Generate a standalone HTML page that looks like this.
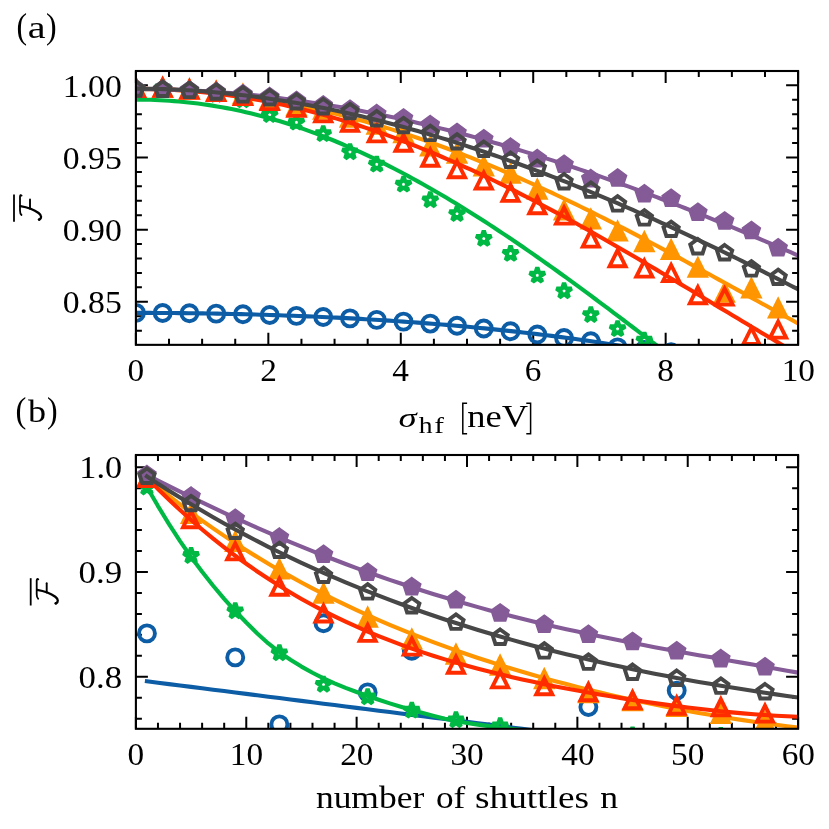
<!DOCTYPE html>
<html lang="en">
<head>
<meta charset="utf-8">
<title>Average fidelity versus hyperfine noise and number of shuttles</title>
<style>
html,body{margin:0;padding:0;background:#ffffff;}
body{width:829px;height:829px;overflow:hidden;font-family:"Liberation Serif",serif;}
svg{display:block;will-change:transform;}
</style>
</head>
<body>
<svg width="829" height="829" viewBox="0 0 829 829">
<rect x="0" y="0" width="829" height="829" fill="#ffffff"/>
<defs>
<clipPath id="ca"><rect x="135.9" y="71" width="662.2" height="273.85"/></clipPath>
<clipPath id="cb"><rect x="135.9" y="455" width="662.2" height="273.8"/></clipPath>
</defs>
<path d="M135.9 71 v12 M135.9 344.85 v-12 M268.34 71 v12 M268.34 344.85 v-12 M400.78 71 v12 M400.78 344.85 v-12 M533.22 71 v12 M533.22 344.85 v-12 M665.66 71 v12 M665.66 344.85 v-12 M798.1 71 v12 M798.1 344.85 v-12 M169.01 71 v6 M169.01 344.85 v-6 M202.12 71 v6 M202.12 344.85 v-6 M235.23 71 v6 M235.23 344.85 v-6 M301.45 71 v6 M301.45 344.85 v-6 M334.56 71 v6 M334.56 344.85 v-6 M367.67 71 v6 M367.67 344.85 v-6 M433.89 71 v6 M433.89 344.85 v-6 M467 71 v6 M467 344.85 v-6 M500.11 71 v6 M500.11 344.85 v-6 M566.33 71 v6 M566.33 344.85 v-6 M599.44 71 v6 M599.44 344.85 v-6 M632.55 71 v6 M632.55 344.85 v-6 M698.77 71 v6 M698.77 344.85 v-6 M731.88 71 v6 M731.88 344.85 v-6 M764.99 71 v6 M764.99 344.85 v-6 M135.9 85.3 h12 M798.1 85.3 h-12 M135.9 157.47 h12 M798.1 157.47 h-12 M135.9 229.63 h12 M798.1 229.63 h-12 M135.9 301.8 h12 M798.1 301.8 h-12 M135.9 330.66 h6 M798.1 330.66 h-6 M135.9 316.23 h6 M798.1 316.23 h-6 M135.9 287.36 h6 M798.1 287.36 h-6 M135.9 272.93 h6 M798.1 272.93 h-6 M135.9 258.5 h6 M798.1 258.5 h-6 M135.9 244.06 h6 M798.1 244.06 h-6 M135.9 215.2 h6 M798.1 215.2 h-6 M135.9 200.76 h6 M798.1 200.76 h-6 M135.9 186.33 h6 M798.1 186.33 h-6 M135.9 171.9 h6 M798.1 171.9 h-6 M135.9 143.03 h6 M798.1 143.03 h-6 M135.9 128.6 h6 M798.1 128.6 h-6 M135.9 114.17 h6 M798.1 114.17 h-6 M135.9 99.73 h6 M798.1 99.73 h-6" stroke="#000" stroke-width="2" fill="none"/>
<g clip-path="url(#ca)">
<polyline points="135.9,312.9 140.68,312.9 145.46,312.91 150.24,312.92 155.01,312.94 159.79,312.96 164.57,312.99 169.35,313.03 174.13,313.07 178.91,313.11 183.68,313.16 188.46,313.22 193.24,313.28 198.02,313.34 202.8,313.41 207.58,313.49 212.35,313.57 217.13,313.66 221.91,313.75 226.69,313.85 231.47,313.95 236.25,314.06 241.03,314.17 245.8,314.29 250.58,314.42 255.36,314.55 260.14,314.68 264.92,314.82 269.7,314.97 274.47,315.13 279.25,315.28 284.03,315.45 288.81,315.62 293.59,315.8 298.37,315.98 303.14,316.17 307.92,316.36 312.7,316.56 317.48,316.77 322.26,316.98 327.04,317.2 331.82,317.43 336.59,317.66 341.37,317.9 346.15,318.15 350.93,318.4 355.71,318.66 360.49,318.92 365.26,319.19 370.04,319.47 374.82,319.76 379.6,320.05 384.38,320.35 389.16,320.65 393.93,320.97 398.71,321.29 403.49,321.62 408.27,321.95 413.05,322.29 417.83,322.64 422.61,323 427.38,323.37 432.16,323.74 436.94,324.12 441.72,324.51 446.5,324.91 451.28,325.32 456.05,325.73 460.83,326.15 465.61,326.58 470.39,327.02 475.17,327.47 479.95,327.93 484.72,328.39 489.5,328.87 494.28,329.35 499.06,329.84 503.84,330.34 508.62,330.85 513.39,331.37 518.17,331.9 522.95,332.44 527.73,332.99 532.51,333.55 537.29,334.12 542.07,334.7 546.84,335.29 551.62,335.89 556.4,336.5 561.18,337.12 565.96,337.75 570.74,338.4 575.51,339.05 580.29,339.71 585.07,340.39 589.85,341.08 594.63,341.78 599.41,342.49 604.18,343.21 608.96,343.94 613.74,344.69 618.52,345.45 623.3,346.22 628.08,347 632.86,347.8 637.63,348.6 642.41,349.43 647.19,350.26 651.97,351.11 656.75,351.97 661.53,352.84 666.3,353.73 671.08,354.63 675.86,355.55 680.64,356.48 685.42,357.42 690.2,358.38 694.97,359.36 699.75,360.34 704.53,361.35 709.31,362.36 714.09,363.4 718.87,364.45 723.65,365.51 728.42,366.59 733.2,367.69 737.98,368.8 742.76,369.93 747.54,371.07 752.32,372.23 757.09,373.41 761.87,374.61 766.65,375.82 771.43,377.05 776.21,378.3 780.99,379.56 785.76,380.84 790.54,382.14 795.32,383.46 800.1,384.8" fill="none" stroke="#0C5DA5" stroke-width="4.1" stroke-linejoin="round" stroke-linecap="square"/>
<circle cx="135.9" cy="312.9" r="8" fill="none" stroke="#0C5DA5" stroke-width="3.9"/>
<circle cx="162.66" cy="312.98" r="8" fill="none" stroke="#0C5DA5" stroke-width="3.9"/>
<circle cx="189.42" cy="313.23" r="8" fill="none" stroke="#0C5DA5" stroke-width="3.9"/>
<circle cx="216.18" cy="313.64" r="8" fill="none" stroke="#0C5DA5" stroke-width="3.9"/>
<circle cx="242.94" cy="314.22" r="8" fill="none" stroke="#0C5DA5" stroke-width="3.9"/>
<circle cx="269.7" cy="314.97" r="8" fill="none" stroke="#0C5DA5" stroke-width="3.9"/>
<circle cx="296.46" cy="315.91" r="8" fill="none" stroke="#0C5DA5" stroke-width="3.9"/>
<circle cx="323.22" cy="317.03" r="8" fill="none" stroke="#0C5DA5" stroke-width="3.9"/>
<circle cx="349.98" cy="318.35" r="8" fill="none" stroke="#0C5DA5" stroke-width="3.9"/>
<circle cx="376.74" cy="319.87" r="8" fill="none" stroke="#0C5DA5" stroke-width="3.9"/>
<circle cx="403.5" cy="321.62" r="8" fill="none" stroke="#0C5DA5" stroke-width="3.9"/>
<circle cx="430.26" cy="323.59" r="8" fill="none" stroke="#0C5DA5" stroke-width="3.9"/>
<circle cx="457.02" cy="325.81" r="8" fill="none" stroke="#0C5DA5" stroke-width="3.9"/>
<circle cx="483.78" cy="328.5" r="8" fill="none" stroke="#0C5DA5" stroke-width="3.9"/>
<circle cx="510.54" cy="331.3" r="8" fill="none" stroke="#0C5DA5" stroke-width="3.9"/>
<circle cx="537.3" cy="334.5" r="8" fill="none" stroke="#0C5DA5" stroke-width="3.9"/>
<circle cx="564.06" cy="338" r="8" fill="none" stroke="#0C5DA5" stroke-width="3.9"/>
<circle cx="590.82" cy="341.3" r="8" fill="none" stroke="#0C5DA5" stroke-width="3.9"/>
<circle cx="617.58" cy="347.4" r="8" fill="none" stroke="#0C5DA5" stroke-width="3.9"/>
<circle cx="644.34" cy="350" r="8" fill="none" stroke="#0C5DA5" stroke-width="3.9"/>
<circle cx="671.1" cy="352.3" r="8" fill="none" stroke="#0C5DA5" stroke-width="3.9"/>
<circle cx="697.86" cy="358" r="8" fill="none" stroke="#0C5DA5" stroke-width="3.9"/>
<polyline points="135.9,99.6 140.68,99.62 145.46,99.69 150.24,99.81 155.01,99.98 159.79,100.19 164.57,100.44 169.35,100.75 174.13,101.1 178.91,101.5 183.68,101.95 188.46,102.44 193.24,102.99 198.02,103.58 202.8,104.22 207.58,104.9 212.35,105.64 217.13,106.42 221.91,107.26 226.69,108.14 231.47,109.07 236.25,110.05 241.03,111.09 245.8,112.16 250.58,113.29 255.36,114.47 260.14,115.7 264.92,116.97 269.7,118.3 274.47,119.67 279.25,121.09 284.03,122.55 288.81,124.07 293.59,125.63 298.37,127.24 303.14,128.89 307.92,130.59 312.7,132.34 317.48,134.13 322.26,135.97 327.04,137.85 331.82,139.77 336.59,141.74 341.37,143.75 346.15,145.8 350.93,147.89 355.71,150.03 360.49,152.2 365.26,154.42 370.04,156.68 374.82,158.97 379.6,161.31 384.38,163.68 389.16,166.09 393.93,168.54 398.71,171.03 403.49,173.55 408.27,176.11 413.05,178.7 417.83,181.33 422.61,184 427.38,186.7 432.16,189.43 436.94,192.19 441.72,194.99 446.5,197.82 451.28,200.68 456.05,203.58 460.83,206.5 465.61,209.45 470.39,212.44 475.17,215.45 479.95,218.49 484.72,221.56 489.5,224.65 494.28,227.77 499.06,230.92 503.84,234.1 508.62,237.3 513.39,240.52 518.17,243.77 522.95,247.04 527.73,250.34 532.51,253.65 537.29,256.99 542.07,260.35 546.84,263.73 551.62,267.12 556.4,270.54 561.18,273.98 565.96,277.43 570.74,280.9 575.51,284.39 580.29,287.89 585.07,291.41 589.85,294.94 594.63,298.48 599.41,302.04 604.18,305.61 608.96,309.19 613.74,312.78 618.52,316.39 623.3,320 628.08,323.62 632.86,327.25 637.63,330.88 642.41,334.53 647.19,338.17 651.97,341.83 656.75,345.48 661.53,349.14 666.3,352.8 671.08,356.47 675.86,360.13 680.64,363.8 685.42,367.46 690.2,371.13 694.97,374.79 699.75,378.45 704.53,382.1 709.31,385.75 714.09,389.39 718.87,393.03 723.65,396.66 728.42,400.28 733.2,403.89 737.98,407.5 742.76,411.09 747.54,414.67 752.32,418.24 757.09,421.79 761.87,425.33 766.65,428.86 771.43,432.37 776.21,435.86 780.99,439.33 785.76,442.78 790.54,446.22 795.32,449.63 800.1,453.03" fill="none" stroke="#00B945" stroke-width="4.1" stroke-linejoin="round" stroke-linecap="square"/>
<polygon points="135.9,80.5 137.7,86.03 143.51,86.03 138.81,89.44 140.6,94.97 135.9,91.56 131.2,94.97 132.99,89.44 128.29,86.03 134.1,86.03" fill="none" stroke="#00B945" stroke-width="4.3" stroke-linejoin="bevel"/>
<polygon points="162.66,80 164.46,85.53 170.27,85.53 165.57,88.94 167.36,94.47 162.66,91.06 157.96,94.47 159.75,88.94 155.05,85.53 160.86,85.53" fill="none" stroke="#00B945" stroke-width="4.3" stroke-linejoin="bevel"/>
<polygon points="189.42,82.5 191.22,88.03 197.03,88.03 192.33,91.44 194.12,96.97 189.42,93.56 184.72,96.97 186.51,91.44 181.81,88.03 187.62,88.03" fill="none" stroke="#00B945" stroke-width="4.3" stroke-linejoin="bevel"/>
<polygon points="216.18,86.5 217.98,92.03 223.79,92.03 219.09,95.44 220.88,100.97 216.18,97.56 211.48,100.97 213.27,95.44 208.57,92.03 214.38,92.03" fill="none" stroke="#00B945" stroke-width="4.3" stroke-linejoin="bevel"/>
<polygon points="242.94,92 244.74,97.53 250.55,97.53 245.85,100.94 247.64,106.47 242.94,103.06 238.24,106.47 240.03,100.94 235.33,97.53 241.14,97.53" fill="none" stroke="#00B945" stroke-width="4.3" stroke-linejoin="bevel"/>
<polygon points="269.7,106.7 271.5,112.23 277.31,112.23 272.61,115.64 274.4,121.17 269.7,117.76 265,121.17 266.79,115.64 262.09,112.23 267.9,112.23" fill="none" stroke="#00B945" stroke-width="4.3" stroke-linejoin="bevel"/>
<polygon points="296.46,114.4 298.26,119.93 304.07,119.93 299.37,123.34 301.16,128.87 296.46,125.46 291.76,128.87 293.55,123.34 288.85,119.93 294.66,119.93" fill="none" stroke="#00B945" stroke-width="4.3" stroke-linejoin="bevel"/>
<polygon points="323.22,125.9 325.02,131.43 330.83,131.43 326.13,134.84 327.92,140.37 323.22,136.96 318.52,140.37 320.31,134.84 315.61,131.43 321.42,131.43" fill="none" stroke="#00B945" stroke-width="4.3" stroke-linejoin="bevel"/>
<polygon points="349.98,144 351.78,149.53 357.59,149.53 352.89,152.94 354.68,158.47 349.98,155.06 345.28,158.47 347.07,152.94 342.37,149.53 348.18,149.53" fill="none" stroke="#00B945" stroke-width="4.3" stroke-linejoin="bevel"/>
<polygon points="376.74,156.4 378.54,161.93 384.35,161.93 379.65,165.34 381.44,170.87 376.74,167.46 372.04,170.87 373.83,165.34 369.13,161.93 374.94,161.93" fill="none" stroke="#00B945" stroke-width="4.3" stroke-linejoin="bevel"/>
<polygon points="403.5,176.4 405.3,181.93 411.11,181.93 406.41,185.34 408.2,190.87 403.5,187.46 398.8,190.87 400.59,185.34 395.89,181.93 401.7,181.93" fill="none" stroke="#00B945" stroke-width="4.3" stroke-linejoin="bevel"/>
<polygon points="430.26,192 432.06,197.53 437.87,197.53 433.17,200.94 434.96,206.47 430.26,203.06 425.56,206.47 427.35,200.94 422.65,197.53 428.46,197.53" fill="none" stroke="#00B945" stroke-width="4.3" stroke-linejoin="bevel"/>
<polygon points="457.02,205.8 458.82,211.33 464.63,211.33 459.93,214.74 461.72,220.27 457.02,216.86 452.32,220.27 454.11,214.74 449.41,211.33 455.22,211.33" fill="none" stroke="#00B945" stroke-width="4.3" stroke-linejoin="bevel"/>
<polygon points="483.78,230.6 485.58,236.13 491.39,236.13 486.69,239.54 488.48,245.07 483.78,241.66 479.08,245.07 480.87,239.54 476.17,236.13 481.98,236.13" fill="none" stroke="#00B945" stroke-width="4.3" stroke-linejoin="bevel"/>
<polygon points="510.54,245.6 512.34,251.13 518.15,251.13 513.45,254.54 515.24,260.07 510.54,256.66 505.84,260.07 507.63,254.54 502.93,251.13 508.74,251.13" fill="none" stroke="#00B945" stroke-width="4.3" stroke-linejoin="bevel"/>
<polygon points="537.3,267.4 539.1,272.93 544.91,272.93 540.21,276.34 542,281.87 537.3,278.46 532.6,281.87 534.39,276.34 529.69,272.93 535.5,272.93" fill="none" stroke="#00B945" stroke-width="4.3" stroke-linejoin="bevel"/>
<polygon points="564.06,283 565.86,288.53 571.67,288.53 566.97,291.94 568.76,297.47 564.06,294.06 559.36,297.47 561.15,291.94 556.45,288.53 562.26,288.53" fill="none" stroke="#00B945" stroke-width="4.3" stroke-linejoin="bevel"/>
<polygon points="590.82,306.8 592.62,312.33 598.43,312.33 593.73,315.74 595.52,321.27 590.82,317.86 586.12,321.27 587.91,315.74 583.21,312.33 589.02,312.33" fill="none" stroke="#00B945" stroke-width="4.3" stroke-linejoin="bevel"/>
<polygon points="617.58,320.9 619.38,326.43 625.19,326.43 620.49,329.84 622.28,335.37 617.58,331.96 612.88,335.37 614.67,329.84 609.97,326.43 615.78,326.43" fill="none" stroke="#00B945" stroke-width="4.3" stroke-linejoin="bevel"/>
<polygon points="644.34,332.4 646.14,337.93 651.95,337.93 647.25,341.34 649.04,346.87 644.34,343.46 639.64,346.87 641.43,341.34 636.73,337.93 642.54,337.93" fill="none" stroke="#00B945" stroke-width="4.3" stroke-linejoin="bevel"/>
<polygon points="671.1,348 672.9,353.53 678.71,353.53 674.01,356.94 675.8,362.47 671.1,359.06 666.4,362.47 668.19,356.94 663.49,353.53 669.3,353.53" fill="none" stroke="#00B945" stroke-width="4.3" stroke-linejoin="bevel"/>
<polyline points="135.9,89.03 140.68,89.04 145.46,89.09 150.24,89.16 155.01,89.25 159.79,89.38 164.57,89.53 169.35,89.71 174.13,89.92 178.91,90.16 183.68,90.43 188.46,90.72 193.24,91.05 198.02,91.4 202.8,91.78 207.58,92.19 212.35,92.62 217.13,93.09 221.91,93.58 226.69,94.11 231.47,94.66 236.25,95.24 241.03,95.85 245.8,96.48 250.58,97.15 255.36,97.85 260.14,98.57 264.92,99.32 269.7,100.1 274.47,100.91 279.25,101.75 284.03,102.61 288.81,103.5 293.59,104.43 298.37,105.38 303.14,106.35 307.92,107.36 312.7,108.39 317.48,109.46 322.26,110.55 327.04,111.66 331.82,112.81 336.59,113.98 341.37,115.18 346.15,116.41 350.93,117.66 355.71,118.95 360.49,120.25 365.26,121.59 370.04,122.95 374.82,124.34 379.6,125.76 384.38,127.2 389.16,128.66 393.93,130.16 398.71,131.68 403.49,133.22 408.27,134.79 413.05,136.39 417.83,138.01 422.61,139.66 427.38,141.33 432.16,143.02 436.94,144.74 441.72,146.49 446.5,148.25 451.28,150.05 456.05,151.86 460.83,153.7 465.61,155.56 470.39,157.45 475.17,159.35 479.95,161.28 484.72,163.23 489.5,165.21 494.28,167.2 499.06,169.22 503.84,171.26 508.62,173.31 513.39,175.39 518.17,177.49 522.95,179.61 527.73,181.75 532.51,183.91 537.29,186.09 542.07,188.28 546.84,190.5 551.62,192.73 556.4,194.98 561.18,197.25 565.96,199.54 570.74,201.84 575.51,204.16 580.29,206.49 585.07,208.84 589.85,211.21 594.63,213.59 599.41,215.99 604.18,218.4 608.96,220.83 613.74,223.27 618.52,225.72 623.3,228.18 628.08,230.66 632.86,233.15 637.63,235.65 642.41,238.17 647.19,240.69 651.97,243.23 656.75,245.77 661.53,248.33 666.3,250.89 671.08,253.46 675.86,256.05 680.64,258.63 685.42,261.23 690.2,263.84 694.97,266.45 699.75,269.06 704.53,271.69 709.31,274.31 714.09,276.95 718.87,279.58 723.65,282.22 728.42,284.87 733.2,287.52 737.98,290.16 742.76,292.82 747.54,295.47 752.32,298.12 757.09,300.78 761.87,303.43 766.65,306.08 771.43,308.73 776.21,311.38 780.99,314.03 785.76,316.67 790.54,319.32 795.32,321.95 800.1,324.59" fill="none" stroke="#FF9500" stroke-width="4.1" stroke-linejoin="round" stroke-linecap="square"/>
<polygon points="135.9,80 127.9,96 143.9,96" fill="#FF9500" stroke="#FF9500" stroke-width="3.9" stroke-linejoin="miter"/>
<polygon points="162.66,80 154.66,96 170.66,96" fill="#FF9500" stroke="#FF9500" stroke-width="3.9" stroke-linejoin="miter"/>
<polygon points="189.42,81.5 181.42,97.5 197.42,97.5" fill="#FF9500" stroke="#FF9500" stroke-width="3.9" stroke-linejoin="miter"/>
<polygon points="216.18,83.5 208.18,99.5 224.18,99.5" fill="#FF9500" stroke="#FF9500" stroke-width="3.9" stroke-linejoin="miter"/>
<polygon points="242.94,86.5 234.94,102.5 250.94,102.5" fill="#FF9500" stroke="#FF9500" stroke-width="3.9" stroke-linejoin="miter"/>
<polygon points="269.7,92 261.7,108 277.7,108" fill="#FF9500" stroke="#FF9500" stroke-width="3.9" stroke-linejoin="miter"/>
<polygon points="296.46,98.2 288.46,114.2 304.46,114.2" fill="#FF9500" stroke="#FF9500" stroke-width="3.9" stroke-linejoin="miter"/>
<polygon points="323.22,101.8 315.22,117.8 331.22,117.8" fill="#FF9500" stroke="#FF9500" stroke-width="3.9" stroke-linejoin="miter"/>
<polygon points="349.98,109.8 341.98,125.8 357.98,125.8" fill="#FF9500" stroke="#FF9500" stroke-width="3.9" stroke-linejoin="miter"/>
<polygon points="376.74,116.91 368.74,132.91 384.74,132.91" fill="#FF9500" stroke="#FF9500" stroke-width="3.9" stroke-linejoin="miter"/>
<polygon points="403.5,125.23 395.5,141.23 411.5,141.23" fill="#FF9500" stroke="#FF9500" stroke-width="3.9" stroke-linejoin="miter"/>
<polygon points="430.26,138.5 422.26,154.5 438.26,154.5" fill="#FF9500" stroke="#FF9500" stroke-width="3.9" stroke-linejoin="miter"/>
<polygon points="457.02,145.7 449.02,161.7 465.02,161.7" fill="#FF9500" stroke="#FF9500" stroke-width="3.9" stroke-linejoin="miter"/>
<polygon points="483.78,158.5 475.78,174.5 491.78,174.5" fill="#FF9500" stroke="#FF9500" stroke-width="3.9" stroke-linejoin="miter"/>
<polygon points="510.54,165.8 502.54,181.8 518.54,181.8" fill="#FF9500" stroke="#FF9500" stroke-width="3.9" stroke-linejoin="miter"/>
<polygon points="537.3,181.7 529.3,197.7 545.3,197.7" fill="#FF9500" stroke="#FF9500" stroke-width="3.9" stroke-linejoin="miter"/>
<polygon points="564.06,202.5 556.06,218.5 572.06,218.5" fill="#FF9500" stroke="#FF9500" stroke-width="3.9" stroke-linejoin="miter"/>
<polygon points="590.82,211.6 582.82,227.6 598.82,227.6" fill="#FF9500" stroke="#FF9500" stroke-width="3.9" stroke-linejoin="miter"/>
<polygon points="617.58,223.6 609.58,239.6 625.58,239.6" fill="#FF9500" stroke="#FF9500" stroke-width="3.9" stroke-linejoin="miter"/>
<polygon points="644.34,234.2 636.34,250.2 652.34,250.2" fill="#FF9500" stroke="#FF9500" stroke-width="3.9" stroke-linejoin="miter"/>
<polygon points="671.1,242 663.1,258 679.1,258" fill="#FF9500" stroke="#FF9500" stroke-width="3.9" stroke-linejoin="miter"/>
<polygon points="697.86,259.8 689.86,275.8 705.86,275.8" fill="#FF9500" stroke="#FF9500" stroke-width="3.9" stroke-linejoin="miter"/>
<polygon points="724.62,284.8 716.62,300.8 732.62,300.8" fill="#FF9500" stroke="#FF9500" stroke-width="3.9" stroke-linejoin="miter"/>
<polygon points="751.38,280.6 743.38,296.6 759.38,296.6" fill="#FF9500" stroke="#FF9500" stroke-width="3.9" stroke-linejoin="miter"/>
<polygon points="778.14,300.6 770.14,316.6 786.14,316.6" fill="#FF9500" stroke="#FF9500" stroke-width="3.9" stroke-linejoin="miter"/>
<polyline points="135.9,88.82 140.68,88.84 145.46,88.89 150.24,88.97 155.01,89.09 159.79,89.24 164.57,89.43 169.35,89.65 174.13,89.9 178.91,90.19 183.68,90.51 188.46,90.87 193.24,91.26 198.02,91.68 202.8,92.14 207.58,92.63 212.35,93.16 217.13,93.72 221.91,94.31 226.69,94.94 231.47,95.6 236.25,96.3 241.03,97.03 245.8,97.79 250.58,98.59 255.36,99.42 260.14,100.28 264.92,101.18 269.7,102.11 274.47,103.08 279.25,104.08 284.03,105.11 288.81,106.17 293.59,107.27 298.37,108.4 303.14,109.56 307.92,110.76 312.7,111.99 317.48,113.25 322.26,114.54 327.04,115.86 331.82,117.22 336.59,118.61 341.37,120.03 346.15,121.48 350.93,122.96 355.71,124.47 360.49,126.02 365.26,127.59 370.04,129.19 374.82,130.83 379.6,132.49 384.38,134.19 389.16,135.91 393.93,137.67 398.71,139.45 403.49,141.26 408.27,143.1 413.05,144.97 417.83,146.86 422.61,148.79 427.38,150.74 432.16,152.71 436.94,154.72 441.72,156.75 446.5,158.81 451.28,160.89 456.05,163 460.83,165.14 465.61,167.3 470.39,169.48 475.17,171.69 479.95,173.93 484.72,176.18 489.5,178.46 494.28,180.77 499.06,183.09 503.84,185.44 508.62,187.81 513.39,190.2 518.17,192.62 522.95,195.05 527.73,197.51 532.51,199.98 537.29,202.47 542.07,204.99 546.84,207.52 551.62,210.07 556.4,212.64 561.18,215.22 565.96,217.82 570.74,220.44 575.51,223.08 580.29,225.73 585.07,228.39 589.85,231.07 594.63,233.77 599.41,236.48 604.18,239.2 608.96,241.93 613.74,244.68 618.52,247.44 623.3,250.21 628.08,252.99 632.86,255.78 637.63,258.58 642.41,261.39 647.19,264.21 651.97,267.03 656.75,269.87 661.53,272.71 666.3,275.55 671.08,278.4 675.86,281.26 680.64,284.12 685.42,286.99 690.2,289.86 694.97,292.73 699.75,295.61 704.53,298.48 709.31,301.36 714.09,304.24 718.87,307.12 723.65,309.99 728.42,312.87 733.2,315.74 737.98,318.61 742.76,321.48 747.54,324.34 752.32,327.2 757.09,330.05 761.87,332.9 766.65,335.73 771.43,338.57 776.21,341.39 780.99,344.2 785.76,347.01 790.54,349.8 795.32,352.59 800.1,355.36" fill="none" stroke="#FF2C00" stroke-width="4.1" stroke-linejoin="round" stroke-linecap="square"/>
<polygon points="135.9,80 127.9,96 143.9,96" fill="none" stroke="#FF2C00" stroke-width="3.9" stroke-linejoin="miter"/>
<polygon points="162.66,79.7 154.66,95.7 170.66,95.7" fill="none" stroke="#FF2C00" stroke-width="3.9" stroke-linejoin="miter"/>
<polygon points="189.42,81.7 181.42,97.7 197.42,97.7" fill="none" stroke="#FF2C00" stroke-width="3.9" stroke-linejoin="miter"/>
<polygon points="216.18,84 208.18,100 224.18,100" fill="none" stroke="#FF2C00" stroke-width="3.9" stroke-linejoin="miter"/>
<polygon points="242.94,88 234.94,104 250.94,104" fill="none" stroke="#FF2C00" stroke-width="3.9" stroke-linejoin="miter"/>
<polygon points="269.7,93.1 261.7,109.1 277.7,109.1" fill="none" stroke="#FF2C00" stroke-width="3.9" stroke-linejoin="miter"/>
<polygon points="296.46,99.9 288.46,115.9 304.46,115.9" fill="none" stroke="#FF2C00" stroke-width="3.9" stroke-linejoin="miter"/>
<polygon points="323.22,105.4 315.22,121.4 331.22,121.4" fill="none" stroke="#FF2C00" stroke-width="3.9" stroke-linejoin="miter"/>
<polygon points="349.98,114.8 341.98,130.8 357.98,130.8" fill="none" stroke="#FF2C00" stroke-width="3.9" stroke-linejoin="miter"/>
<polygon points="376.74,125.4 368.74,141.4 384.74,141.4" fill="none" stroke="#FF2C00" stroke-width="3.9" stroke-linejoin="miter"/>
<polygon points="403.5,134.8 395.5,150.8 411.5,150.8" fill="none" stroke="#FF2C00" stroke-width="3.9" stroke-linejoin="miter"/>
<polygon points="430.26,149.7 422.26,165.7 438.26,165.7" fill="none" stroke="#FF2C00" stroke-width="3.9" stroke-linejoin="miter"/>
<polygon points="457.02,161.3 449.02,177.3 465.02,177.3" fill="none" stroke="#FF2C00" stroke-width="3.9" stroke-linejoin="miter"/>
<polygon points="483.78,172.5 475.78,188.5 491.78,188.5" fill="none" stroke="#FF2C00" stroke-width="3.9" stroke-linejoin="miter"/>
<polygon points="510.54,184.9 502.54,200.9 518.54,200.9" fill="none" stroke="#FF2C00" stroke-width="3.9" stroke-linejoin="miter"/>
<polygon points="537.3,197.2 529.3,213.2 545.3,213.2" fill="none" stroke="#FF2C00" stroke-width="3.9" stroke-linejoin="miter"/>
<polygon points="564.06,207.6 556.06,223.6 572.06,223.6" fill="none" stroke="#FF2C00" stroke-width="3.9" stroke-linejoin="miter"/>
<polygon points="590.82,230.6 582.82,246.6 598.82,246.6" fill="none" stroke="#FF2C00" stroke-width="3.9" stroke-linejoin="miter"/>
<polygon points="617.58,250.2 609.58,266.2 625.58,266.2" fill="none" stroke="#FF2C00" stroke-width="3.9" stroke-linejoin="miter"/>
<polygon points="644.34,260.6 636.34,276.6 652.34,276.6" fill="none" stroke="#FF2C00" stroke-width="3.9" stroke-linejoin="miter"/>
<polygon points="671.1,265 663.1,281 679.1,281" fill="none" stroke="#FF2C00" stroke-width="3.9" stroke-linejoin="miter"/>
<polygon points="697.86,287.2 689.86,303.2 705.86,303.2" fill="none" stroke="#FF2C00" stroke-width="3.9" stroke-linejoin="miter"/>
<polygon points="724.62,288.6 716.62,304.6 732.62,304.6" fill="none" stroke="#FF2C00" stroke-width="3.9" stroke-linejoin="miter"/>
<polygon points="751.38,328 743.38,344 759.38,344" fill="none" stroke="#FF2C00" stroke-width="3.9" stroke-linejoin="miter"/>
<polygon points="778.14,321.6 770.14,337.6 786.14,337.6" fill="none" stroke="#FF2C00" stroke-width="3.9" stroke-linejoin="miter"/>
<polyline points="135.9,89.03 140.68,89.04 145.46,89.08 150.24,89.13 155.01,89.2 159.79,89.29 164.57,89.4 169.35,89.54 174.13,89.69 178.91,89.86 183.68,90.06 188.46,90.27 193.24,90.5 198.02,90.76 202.8,91.03 207.58,91.32 212.35,91.63 217.13,91.97 221.91,92.32 226.69,92.69 231.47,93.08 236.25,93.49 241.03,93.92 245.8,94.37 250.58,94.84 255.36,95.33 260.14,95.84 264.92,96.37 269.7,96.91 274.47,97.48 279.25,98.06 284.03,98.66 288.81,99.28 293.59,99.92 298.37,100.58 303.14,101.26 307.92,101.95 312.7,102.67 317.48,103.4 322.26,104.15 327.04,104.92 331.82,105.71 336.59,106.51 341.37,107.33 346.15,108.18 350.93,109.03 355.71,109.91 360.49,110.8 365.26,111.72 370.04,112.65 374.82,113.59 379.6,114.56 384.38,115.54 389.16,116.54 393.93,117.55 398.71,118.59 403.49,119.64 408.27,120.7 413.05,121.79 417.83,122.89 422.61,124 427.38,125.14 432.16,126.29 436.94,127.45 441.72,128.63 446.5,129.83 451.28,131.05 456.05,132.28 460.83,133.52 465.61,134.79 470.39,136.07 475.17,137.36 479.95,138.67 484.72,139.99 489.5,141.33 494.28,142.69 499.06,144.06 503.84,145.45 508.62,146.85 513.39,148.26 518.17,149.69 522.95,151.14 527.73,152.6 532.51,154.07 537.29,155.56 542.07,157.06 546.84,158.58 551.62,160.11 556.4,161.66 561.18,163.22 565.96,164.79 570.74,166.37 575.51,167.98 580.29,169.59 585.07,171.22 589.85,172.86 594.63,174.51 599.41,176.18 604.18,177.85 608.96,179.55 613.74,181.25 618.52,182.97 623.3,184.7 628.08,186.44 632.86,188.2 637.63,189.96 642.41,191.74 647.19,193.53 651.97,195.33 656.75,197.15 661.53,198.97 666.3,200.81 671.08,202.66 675.86,204.52 680.64,206.39 685.42,208.27 690.2,210.17 694.97,212.07 699.75,213.98 704.53,215.91 709.31,217.84 714.09,219.79 718.87,221.74 723.65,223.71 728.42,225.69 733.2,227.67 737.98,229.67 742.76,231.67 747.54,233.68 752.32,235.71 757.09,237.74 761.87,239.78 766.65,241.83 771.43,243.89 776.21,245.96 780.99,248.03 785.76,250.12 790.54,252.21 795.32,254.31 800.1,256.42" fill="none" stroke="#845B97" stroke-width="4.1" stroke-linejoin="round" stroke-linecap="square"/>
<polygon points="135.9,81.03 143.51,86.56 140.6,95.51 131.2,95.51 128.29,86.56" fill="#845B97" stroke="#845B97" stroke-width="3.9" stroke-linejoin="miter"/>
<polygon points="162.66,81.36 170.27,86.88 167.36,95.83 157.96,95.83 155.05,86.88" fill="#845B97" stroke="#845B97" stroke-width="3.9" stroke-linejoin="miter"/>
<polygon points="189.42,82.31 197.03,87.84 194.12,96.79 184.72,96.79 181.81,87.84" fill="#845B97" stroke="#845B97" stroke-width="3.9" stroke-linejoin="miter"/>
<polygon points="216.18,83.9 223.79,89.43 220.88,98.37 211.48,98.37 208.57,89.43" fill="#845B97" stroke="#845B97" stroke-width="3.9" stroke-linejoin="miter"/>
<polygon points="242.94,86.1 250.55,91.63 247.64,100.57 238.24,100.57 235.33,91.63" fill="#845B97" stroke="#845B97" stroke-width="3.9" stroke-linejoin="miter"/>
<polygon points="269.7,89 277.31,94.53 274.4,103.47 265,103.47 262.09,94.53" fill="#845B97" stroke="#845B97" stroke-width="3.9" stroke-linejoin="miter"/>
<polygon points="296.46,92.9 304.07,98.43 301.16,107.37 291.76,107.37 288.85,98.43" fill="#845B97" stroke="#845B97" stroke-width="3.9" stroke-linejoin="miter"/>
<polygon points="323.22,97.4 330.83,102.93 327.92,111.87 318.52,111.87 315.61,102.93" fill="#845B97" stroke="#845B97" stroke-width="3.9" stroke-linejoin="miter"/>
<polygon points="349.98,101.6 357.59,107.13 354.68,116.07 345.28,116.07 342.37,107.13" fill="#845B97" stroke="#845B97" stroke-width="3.9" stroke-linejoin="miter"/>
<polygon points="376.74,106 384.35,111.53 381.44,120.47 372.04,120.47 369.13,111.53" fill="#845B97" stroke="#845B97" stroke-width="3.9" stroke-linejoin="miter"/>
<polygon points="403.5,110.4 411.11,115.93 408.2,124.87 398.8,124.87 395.89,115.93" fill="#845B97" stroke="#845B97" stroke-width="3.9" stroke-linejoin="miter"/>
<polygon points="430.26,117 437.87,122.53 434.96,131.47 425.56,131.47 422.65,122.53" fill="#845B97" stroke="#845B97" stroke-width="3.9" stroke-linejoin="miter"/>
<polygon points="457.02,124.9 464.63,130.43 461.72,139.37 452.32,139.37 449.41,130.43" fill="#845B97" stroke="#845B97" stroke-width="3.9" stroke-linejoin="miter"/>
<polygon points="483.78,131.1 491.39,136.63 488.48,145.57 479.08,145.57 476.17,136.63" fill="#845B97" stroke="#845B97" stroke-width="3.9" stroke-linejoin="miter"/>
<polygon points="510.54,139.5 518.15,145.03 515.24,153.97 505.84,153.97 502.93,145.03" fill="#845B97" stroke="#845B97" stroke-width="3.9" stroke-linejoin="miter"/>
<polygon points="537.3,151 544.91,156.53 542,165.47 532.6,165.47 529.69,156.53" fill="#845B97" stroke="#845B97" stroke-width="3.9" stroke-linejoin="miter"/>
<polygon points="564.06,156.7 571.67,162.23 568.76,171.17 559.36,171.17 556.45,162.23" fill="#845B97" stroke="#845B97" stroke-width="3.9" stroke-linejoin="miter"/>
<polygon points="590.82,171 598.43,176.53 595.52,185.47 586.12,185.47 583.21,176.53" fill="#845B97" stroke="#845B97" stroke-width="3.9" stroke-linejoin="miter"/>
<polygon points="617.58,170.4 625.19,175.93 622.28,184.87 612.88,184.87 609.97,175.93" fill="#845B97" stroke="#845B97" stroke-width="3.9" stroke-linejoin="miter"/>
<polygon points="644.34,186.2 651.95,191.73 649.04,200.67 639.64,200.67 636.73,191.73" fill="#845B97" stroke="#845B97" stroke-width="3.9" stroke-linejoin="miter"/>
<polygon points="671.1,190.6 678.71,196.13 675.8,205.07 666.4,205.07 663.49,196.13" fill="#845B97" stroke="#845B97" stroke-width="3.9" stroke-linejoin="miter"/>
<polygon points="697.86,204.6 705.47,210.13 702.56,219.07 693.16,219.07 690.25,210.13" fill="#845B97" stroke="#845B97" stroke-width="3.9" stroke-linejoin="miter"/>
<polygon points="724.62,213.3 732.23,218.83 729.32,227.77 719.92,227.77 717.01,218.83" fill="#845B97" stroke="#845B97" stroke-width="3.9" stroke-linejoin="miter"/>
<polygon points="751.38,222.9 758.99,228.43 756.08,237.37 746.68,237.37 743.77,228.43" fill="#845B97" stroke="#845B97" stroke-width="3.9" stroke-linejoin="miter"/>
<polygon points="778.14,240.2 785.75,245.73 782.84,254.67 773.44,254.67 770.53,245.73" fill="#845B97" stroke="#845B97" stroke-width="3.9" stroke-linejoin="miter"/>
<polyline points="135.9,88.66 140.68,88.67 145.46,88.71 150.24,88.78 155.01,88.87 159.79,88.99 164.57,89.14 169.35,89.31 174.13,89.51 178.91,89.73 183.68,89.98 188.46,90.25 193.24,90.55 198.02,90.88 202.8,91.23 207.58,91.6 212.35,92 217.13,92.43 221.91,92.88 226.69,93.35 231.47,93.85 236.25,94.38 241.03,94.92 245.8,95.5 250.58,96.09 255.36,96.71 260.14,97.35 264.92,98.02 269.7,98.71 274.47,99.42 279.25,100.16 284.03,100.92 288.81,101.7 293.59,102.51 298.37,103.34 303.14,104.19 307.92,105.06 312.7,105.96 317.48,106.88 322.26,107.82 327.04,108.78 331.82,109.76 336.59,110.77 341.37,111.79 346.15,112.84 350.93,113.91 355.71,115 360.49,116.12 365.26,117.25 370.04,118.4 374.82,119.58 379.6,120.77 384.38,121.99 389.16,123.22 393.93,124.48 398.71,125.75 403.49,127.05 408.27,128.36 413.05,129.7 417.83,131.05 422.61,132.43 427.38,133.82 432.16,135.23 436.94,136.66 441.72,138.11 446.5,139.58 451.28,141.07 456.05,142.57 460.83,144.1 465.61,145.64 470.39,147.2 475.17,148.77 479.95,150.37 484.72,151.98 489.5,153.61 494.28,155.26 499.06,156.93 503.84,158.61 508.62,160.31 513.39,162.02 518.17,163.75 522.95,165.5 527.73,167.27 532.51,169.05 537.29,170.85 542.07,172.66 546.84,174.49 551.62,176.34 556.4,178.2 561.18,180.07 565.96,181.96 570.74,183.87 575.51,185.79 580.29,187.73 585.07,189.68 589.85,191.64 594.63,193.62 599.41,195.62 604.18,197.63 608.96,199.65 613.74,201.68 618.52,203.73 623.3,205.8 628.08,207.87 632.86,209.96 637.63,212.07 642.41,214.18 647.19,216.31 651.97,218.46 656.75,220.61 661.53,222.78 666.3,224.96 671.08,227.15 675.86,229.35 680.64,231.57 685.42,233.79 690.2,236.03 694.97,238.28 699.75,240.54 704.53,242.82 709.31,245.1 714.09,247.4 718.87,249.7 723.65,252.02 728.42,254.34 733.2,256.68 737.98,259.03 742.76,261.38 747.54,263.75 752.32,266.12 757.09,268.51 761.87,270.9 766.65,273.31 771.43,275.72 776.21,278.14 780.99,280.57 785.76,283.01 790.54,285.46 795.32,287.92 800.1,290.38" fill="none" stroke="#474747" stroke-width="4.1" stroke-linejoin="round" stroke-linecap="square"/>
<polygon points="135.9,81.3 143.51,86.83 140.6,95.77 131.2,95.77 128.29,86.83" fill="none" stroke="#474747" stroke-width="3.9" stroke-linejoin="miter"/>
<polygon points="162.66,81.5 170.27,87.03 167.36,95.97 157.96,95.97 155.05,87.03" fill="none" stroke="#474747" stroke-width="3.9" stroke-linejoin="miter"/>
<polygon points="189.42,82.7 197.03,88.23 194.12,97.17 184.72,97.17 181.81,88.23" fill="none" stroke="#474747" stroke-width="3.9" stroke-linejoin="miter"/>
<polygon points="216.18,84.35 223.79,89.88 220.88,98.82 211.48,98.82 208.57,89.88" fill="none" stroke="#474747" stroke-width="3.9" stroke-linejoin="miter"/>
<polygon points="242.94,87.15 250.55,92.68 247.64,101.62 238.24,101.62 235.33,92.68" fill="none" stroke="#474747" stroke-width="3.9" stroke-linejoin="miter"/>
<polygon points="269.7,90 277.31,95.53 274.4,104.47 265,104.47 262.09,95.53" fill="none" stroke="#474747" stroke-width="3.9" stroke-linejoin="miter"/>
<polygon points="296.46,94.1 304.07,99.63 301.16,108.57 291.76,108.57 288.85,99.63" fill="none" stroke="#474747" stroke-width="3.9" stroke-linejoin="miter"/>
<polygon points="323.22,99 330.83,104.53 327.92,113.47 318.52,113.47 315.61,104.53" fill="none" stroke="#474747" stroke-width="3.9" stroke-linejoin="miter"/>
<polygon points="349.98,103.8 357.59,109.33 354.68,118.27 345.28,118.27 342.37,109.33" fill="none" stroke="#474747" stroke-width="3.9" stroke-linejoin="miter"/>
<polygon points="376.74,111 384.35,116.53 381.44,125.47 372.04,125.47 369.13,116.53" fill="none" stroke="#474747" stroke-width="3.9" stroke-linejoin="miter"/>
<polygon points="403.5,117.8 411.11,123.33 408.2,132.27 398.8,132.27 395.89,123.33" fill="none" stroke="#474747" stroke-width="3.9" stroke-linejoin="miter"/>
<polygon points="430.26,125.7 437.87,131.23 434.96,140.17 425.56,140.17 422.65,131.23" fill="none" stroke="#474747" stroke-width="3.9" stroke-linejoin="miter"/>
<polygon points="457.02,134.1 464.63,139.63 461.72,148.57 452.32,148.57 449.41,139.63" fill="none" stroke="#474747" stroke-width="3.9" stroke-linejoin="miter"/>
<polygon points="483.78,141.5 491.39,147.03 488.48,155.97 479.08,155.97 476.17,147.03" fill="none" stroke="#474747" stroke-width="3.9" stroke-linejoin="miter"/>
<polygon points="510.54,152.5 518.15,158.03 515.24,166.97 505.84,166.97 502.93,158.03" fill="none" stroke="#474747" stroke-width="3.9" stroke-linejoin="miter"/>
<polygon points="537.3,160.5 544.91,166.03 542,174.97 532.6,174.97 529.69,166.03" fill="none" stroke="#474747" stroke-width="3.9" stroke-linejoin="miter"/>
<polygon points="564.06,174 571.67,179.53 568.76,188.47 559.36,188.47 556.45,179.53" fill="none" stroke="#474747" stroke-width="3.9" stroke-linejoin="miter"/>
<polygon points="590.82,182.4 598.43,187.93 595.52,196.87 586.12,196.87 583.21,187.93" fill="none" stroke="#474747" stroke-width="3.9" stroke-linejoin="miter"/>
<polygon points="617.58,196.2 625.19,201.73 622.28,210.67 612.88,210.67 609.97,201.73" fill="none" stroke="#474747" stroke-width="3.9" stroke-linejoin="miter"/>
<polygon points="644.34,210.2 651.95,215.73 649.04,224.67 639.64,224.67 636.73,215.73" fill="none" stroke="#474747" stroke-width="3.9" stroke-linejoin="miter"/>
<polygon points="671.1,221.6 678.71,227.13 675.8,236.07 666.4,236.07 663.49,227.13" fill="none" stroke="#474747" stroke-width="3.9" stroke-linejoin="miter"/>
<polygon points="697.86,239 705.47,244.53 702.56,253.47 693.16,253.47 690.25,244.53" fill="none" stroke="#474747" stroke-width="3.9" stroke-linejoin="miter"/>
<polygon points="724.62,245 732.23,250.53 729.32,259.47 719.92,259.47 717.01,250.53" fill="none" stroke="#474747" stroke-width="3.9" stroke-linejoin="miter"/>
<polygon points="751.38,261.2 758.99,266.73 756.08,275.67 746.68,275.67 743.77,266.73" fill="none" stroke="#474747" stroke-width="3.9" stroke-linejoin="miter"/>
<polygon points="778.14,269.6 785.75,275.13 782.84,284.07 773.44,284.07 770.53,275.13" fill="none" stroke="#474747" stroke-width="3.9" stroke-linejoin="miter"/>
</g>
<rect x="135.9" y="71" width="662.2" height="273.85" fill="none" stroke="#000" stroke-width="2.1"/>
<path d="M135.9 455 v12 M135.9 728.8 v-12 M246.27 455 v12 M246.27 728.8 v-12 M356.63 455 v12 M356.63 728.8 v-12 M467 455 v12 M467 728.8 v-12 M577.37 455 v12 M577.37 728.8 v-12 M687.73 455 v12 M687.73 728.8 v-12 M798.1 455 v12 M798.1 728.8 v-12 M157.97 455 v6 M157.97 728.8 v-6 M180.05 455 v6 M180.05 728.8 v-6 M202.12 455 v6 M202.12 728.8 v-6 M224.19 455 v6 M224.19 728.8 v-6 M268.34 455 v6 M268.34 728.8 v-6 M290.41 455 v6 M290.41 728.8 v-6 M312.49 455 v6 M312.49 728.8 v-6 M334.56 455 v6 M334.56 728.8 v-6 M378.71 455 v6 M378.71 728.8 v-6 M400.78 455 v6 M400.78 728.8 v-6 M422.85 455 v6 M422.85 728.8 v-6 M444.93 455 v6 M444.93 728.8 v-6 M489.07 455 v6 M489.07 728.8 v-6 M511.15 455 v6 M511.15 728.8 v-6 M533.22 455 v6 M533.22 728.8 v-6 M555.29 455 v6 M555.29 728.8 v-6 M599.44 455 v6 M599.44 728.8 v-6 M621.51 455 v6 M621.51 728.8 v-6 M643.59 455 v6 M643.59 728.8 v-6 M665.66 455 v6 M665.66 728.8 v-6 M709.81 455 v6 M709.81 728.8 v-6 M731.88 455 v6 M731.88 728.8 v-6 M753.95 455 v6 M753.95 728.8 v-6 M776.03 455 v6 M776.03 728.8 v-6 M135.9 467.2 h12 M798.1 467.2 h-12 M135.9 571.98 h12 M798.1 571.98 h-12 M135.9 676.76 h12 M798.1 676.76 h-12 M135.9 718.67 h6 M798.1 718.67 h-6 M135.9 697.72 h6 M798.1 697.72 h-6 M135.9 655.8 h6 M798.1 655.8 h-6 M135.9 634.85 h6 M798.1 634.85 h-6 M135.9 613.89 h6 M798.1 613.89 h-6 M135.9 592.94 h6 M798.1 592.94 h-6 M135.9 551.02 h6 M798.1 551.02 h-6 M135.9 530.07 h6 M798.1 530.07 h-6 M135.9 509.11 h6 M798.1 509.11 h-6 M135.9 488.16 h6 M798.1 488.16 h-6" stroke="#000" stroke-width="2" fill="none"/>
<g clip-path="url(#cb)">
<polyline points="146.94,681.3 157.97,682.7 169.01,684.1 180.05,685.5 191.08,686.9 202.12,688.3 213.16,689.69 224.19,691.09 235.23,692.49 246.27,693.89 257.3,695.29 268.34,696.69 279.38,698.08 290.41,699.48 301.45,700.88 312.49,702.28 323.52,703.68 334.56,705.08 345.6,706.47 356.63,707.87 367.67,709.27 378.71,710.67 389.74,712.07 400.78,713.47 411.82,714.86 422.85,716.26 433.89,717.66 444.93,719.06 455.96,720.46 467,721.86 478.04,723.26 489.07,724.65 500.11,726.05 511.15,727.45 522.18,728.85 533.22,730.25 544.26,731.65 555.29,733.04 566.33,734.44 577.37,735.84 588.4,737.24 599.44,738.64 610.48,740.04 621.51,741.43 632.55,742.83 643.59,744.23 654.62,745.63 665.66,747.03 676.7,748.43 687.73,749.82 698.77,751.22 709.81,752.62 720.84,754.02 731.88,755.42 742.92,756.82 753.95,758.21 764.99,759.61 776.03,761.01 787.06,762.41 798.1,763.81 809.14,765.21" fill="none" stroke="#0C5DA5" stroke-width="4.1" stroke-linejoin="round" stroke-linecap="square"/>
<circle cx="146.94" cy="633.4" r="8" fill="none" stroke="#0C5DA5" stroke-width="3.9"/>
<circle cx="235.23" cy="657.4" r="8" fill="none" stroke="#0C5DA5" stroke-width="3.9"/>
<circle cx="279.38" cy="724.4" r="8" fill="none" stroke="#0C5DA5" stroke-width="3.9"/>
<circle cx="323.52" cy="623.3" r="8" fill="none" stroke="#0C5DA5" stroke-width="3.9"/>
<circle cx="367.67" cy="692.4" r="8" fill="none" stroke="#0C5DA5" stroke-width="3.9"/>
<circle cx="411.82" cy="650.7" r="8" fill="none" stroke="#0C5DA5" stroke-width="3.9"/>
<circle cx="588.4" cy="707" r="8" fill="none" stroke="#0C5DA5" stroke-width="3.9"/>
<circle cx="676.7" cy="690.6" r="8" fill="none" stroke="#0C5DA5" stroke-width="3.9"/>
<polyline points="146.94,487.06 157.97,506.08 169.01,524.13 180.05,541.13 191.08,556.98 202.12,571.81 213.16,585.79 224.19,598.87 235.23,611.03 246.27,622.53 257.3,633.45 268.34,643.45 279.38,652.18 290.41,659.77 301.45,666.61 312.49,672.76 323.52,678.31 334.56,683.31 345.6,687.83 356.63,692.02 367.67,695.99 378.71,699.79 389.74,703.39 400.78,706.79 411.82,709.98 422.85,713.05 433.89,716 444.93,718.7 455.96,720.99 467,722.91 478.04,724.6 489.07,726.11 500.11,727.49 511.15,728.77 522.18,729.94 533.22,731.01 544.26,732 555.29,732.93 566.33,733.83 577.37,734.67 588.4,735.39 599.44,735.98 610.48,736.45 621.51,736.89 632.55,737.31 643.59,737.69 654.62,738.03 665.66,738.34 676.7,738.6 687.73,738.82 698.77,738.98 709.81,739.12 720.84,739.25 731.88,739.38 742.92,739.5 753.95,739.61 764.99,739.7 776.03,739.79 787.06,739.86 798.1,739.92 809.14,739.97" fill="none" stroke="#00B945" stroke-width="4.1" stroke-linejoin="round" stroke-linecap="square"/>
<polygon points="146.94,479.2 148.73,484.73 154.55,484.73 149.84,488.14 151.64,493.67 146.94,490.26 142.23,493.67 144.03,488.14 139.33,484.73 145.14,484.73" fill="none" stroke="#00B945" stroke-width="4.3" stroke-linejoin="bevel"/>
<polygon points="191.08,547.7 192.88,553.23 198.69,553.23 193.99,556.64 195.79,562.17 191.08,558.76 186.38,562.17 188.18,556.64 183.47,553.23 189.29,553.23" fill="none" stroke="#00B945" stroke-width="4.3" stroke-linejoin="bevel"/>
<polygon points="235.23,603 237.03,608.53 242.84,608.53 238.14,611.94 239.93,617.47 235.23,614.06 230.53,617.47 232.32,611.94 227.62,608.53 233.43,608.53" fill="none" stroke="#00B945" stroke-width="4.3" stroke-linejoin="bevel"/>
<polygon points="279.38,645 281.17,650.53 286.99,650.53 282.28,653.94 284.08,659.47 279.38,656.06 274.67,659.47 276.47,653.94 271.77,650.53 277.58,650.53" fill="none" stroke="#00B945" stroke-width="4.3" stroke-linejoin="bevel"/>
<polygon points="323.52,676.5 325.32,682.03 331.13,682.03 326.43,685.44 328.23,690.97 323.52,687.56 318.82,690.97 320.62,685.44 315.91,682.03 321.73,682.03" fill="none" stroke="#00B945" stroke-width="4.3" stroke-linejoin="bevel"/>
<polygon points="367.67,689 369.47,694.53 375.28,694.53 370.58,697.94 372.37,703.47 367.67,700.06 362.97,703.47 364.76,697.94 360.06,694.53 365.87,694.53" fill="none" stroke="#00B945" stroke-width="4.3" stroke-linejoin="bevel"/>
<polygon points="411.82,702.4 413.61,707.93 419.43,707.93 414.72,711.34 416.52,716.87 411.82,713.46 407.11,716.87 408.91,711.34 404.21,707.93 410.02,707.93" fill="none" stroke="#00B945" stroke-width="4.3" stroke-linejoin="bevel"/>
<polygon points="455.96,712 457.76,717.53 463.57,717.53 458.87,720.94 460.67,726.47 455.96,723.06 451.26,726.47 453.06,720.94 448.35,717.53 454.17,717.53" fill="none" stroke="#00B945" stroke-width="4.3" stroke-linejoin="bevel"/>
<polygon points="500.11,718 501.91,723.53 507.72,723.53 503.02,726.94 504.81,732.47 500.11,729.06 495.41,732.47 497.2,726.94 492.5,723.53 498.31,723.53" fill="none" stroke="#00B945" stroke-width="4.3" stroke-linejoin="bevel"/>
<polygon points="632.55,727.2 634.35,732.73 640.16,732.73 635.46,736.14 637.25,741.67 632.55,738.26 627.85,741.67 629.64,736.14 624.94,732.73 630.75,732.73" fill="none" stroke="#00B945" stroke-width="4.3" stroke-linejoin="bevel"/>
<polygon points="720.84,727.6 722.64,733.13 728.45,733.13 723.75,736.54 725.55,742.07 720.84,738.66 716.14,742.07 717.94,736.54 713.23,733.13 719.05,733.13" fill="none" stroke="#00B945" stroke-width="4.3" stroke-linejoin="bevel"/>
<polyline points="146.94,478.02 157.97,487.06 169.01,495.83 180.05,504.34 191.08,512.59 202.12,520.58 213.16,528.34 224.19,535.86 235.23,543.15 246.27,550.22 257.3,557.07 268.34,563.71 279.38,570.15 290.41,576.4 301.45,582.46 312.49,588.33 323.52,594.03 334.56,599.55 345.6,604.9 356.63,610.1 367.67,615.14 378.71,620.02 389.74,624.77 400.78,629.36 411.82,633.83 422.85,638.16 433.89,642.36 444.93,646.43 455.96,650.39 467,654.23 478.04,657.95 489.07,661.57 500.11,665.08 511.15,668.49 522.18,671.8 533.22,675.01 544.26,678.12 555.29,681.15 566.33,684.08 577.37,686.93 588.4,689.69 599.44,692.36 610.48,694.96 621.51,697.47 632.55,699.91 643.59,702.27 654.62,704.55 665.66,706.76 676.7,708.89 687.73,710.95 698.77,712.94 709.81,714.85 720.84,716.69 731.88,718.46 742.92,720.15 753.95,721.77 764.99,723.32 776.03,724.79 787.06,726.19 798.1,727.51 809.14,728.76" fill="none" stroke="#FF9500" stroke-width="4.1" stroke-linejoin="round" stroke-linecap="square"/>
<polygon points="146.94,470 138.94,486 154.94,486" fill="#FF9500" stroke="#FF9500" stroke-width="3.9" stroke-linejoin="miter"/>
<polygon points="191.08,506 183.08,522 199.08,522" fill="#FF9500" stroke="#FF9500" stroke-width="3.9" stroke-linejoin="miter"/>
<polygon points="235.23,534 227.23,550 243.23,550" fill="#FF9500" stroke="#FF9500" stroke-width="3.9" stroke-linejoin="miter"/>
<polygon points="279.38,561.5 271.38,577.5 287.38,577.5" fill="#FF9500" stroke="#FF9500" stroke-width="3.9" stroke-linejoin="miter"/>
<polygon points="323.52,585.9 315.52,601.9 331.52,601.9" fill="#FF9500" stroke="#FF9500" stroke-width="3.9" stroke-linejoin="miter"/>
<polygon points="367.67,609.7 359.67,625.7 375.67,625.7" fill="#FF9500" stroke="#FF9500" stroke-width="3.9" stroke-linejoin="miter"/>
<polygon points="411.82,631.6 403.82,647.6 419.82,647.6" fill="#FF9500" stroke="#FF9500" stroke-width="3.9" stroke-linejoin="miter"/>
<polygon points="455.96,646.7 447.96,662.7 463.96,662.7" fill="#FF9500" stroke="#FF9500" stroke-width="3.9" stroke-linejoin="miter"/>
<polygon points="500.11,657.7 492.11,673.7 508.11,673.7" fill="#FF9500" stroke="#FF9500" stroke-width="3.9" stroke-linejoin="miter"/>
<polygon points="544.26,671.2 536.26,687.2 552.26,687.2" fill="#FF9500" stroke="#FF9500" stroke-width="3.9" stroke-linejoin="miter"/>
<polygon points="588.4,685.2 580.4,701.2 596.4,701.2" fill="#FF9500" stroke="#FF9500" stroke-width="3.9" stroke-linejoin="miter"/>
<polygon points="632.55,693.2 624.55,709.2 640.55,709.2" fill="#FF9500" stroke="#FF9500" stroke-width="3.9" stroke-linejoin="miter"/>
<polygon points="676.7,699 668.7,715 684.7,715" fill="#FF9500" stroke="#FF9500" stroke-width="3.9" stroke-linejoin="miter"/>
<polygon points="720.84,706 712.84,722 728.84,722" fill="#FF9500" stroke="#FF9500" stroke-width="3.9" stroke-linejoin="miter"/>
<polygon points="764.99,714 756.99,730 772.99,730" fill="#FF9500" stroke="#FF9500" stroke-width="3.9" stroke-linejoin="miter"/>
<polyline points="146.94,477.89 157.97,489.04 169.01,499.77 180.05,510.08 191.08,519.99 202.12,529.5 213.16,538.62 224.19,547.37 235.23,555.75 246.27,563.78 257.3,571.46 268.34,578.8 279.38,585.82 290.41,592.52 301.45,598.91 312.49,605.02 323.52,610.84 334.56,616.39 345.6,621.68 356.63,626.73 367.67,631.53 378.71,636.1 389.74,640.46 400.78,644.62 411.82,648.57 422.85,652.34 433.89,655.93 444.93,659.36 455.96,662.63 467,665.75 478.04,668.74 489.07,671.59 500.11,674.32 511.15,676.93 522.18,679.44 533.22,681.85 544.26,684.16 555.29,686.39 566.33,688.53 577.37,690.59 588.4,692.58 599.44,694.49 610.48,696.34 621.51,698.13 632.55,699.85 643.59,701.5 654.62,703.1 665.66,704.63 676.7,706.1 687.73,707.5 698.77,708.83 709.81,710.08 720.84,711.26 731.88,712.35 742.92,713.36 753.95,714.26 764.99,715.06 776.03,715.74 787.06,716.29 798.1,716.71 809.14,716.97" fill="none" stroke="#FF2C00" stroke-width="4.1" stroke-linejoin="round" stroke-linecap="square"/>
<polygon points="146.94,470 138.94,486 154.94,486" fill="none" stroke="#FF2C00" stroke-width="3.9" stroke-linejoin="miter"/>
<polygon points="191.08,511.2 183.08,527.2 199.08,527.2" fill="none" stroke="#FF2C00" stroke-width="3.9" stroke-linejoin="miter"/>
<polygon points="235.23,543.4 227.23,559.4 243.23,559.4" fill="none" stroke="#FF2C00" stroke-width="3.9" stroke-linejoin="miter"/>
<polygon points="279.38,578.7 271.38,594.7 287.38,594.7" fill="none" stroke="#FF2C00" stroke-width="3.9" stroke-linejoin="miter"/>
<polygon points="323.52,605.5 315.52,621.5 331.52,621.5" fill="none" stroke="#FF2C00" stroke-width="3.9" stroke-linejoin="miter"/>
<polygon points="367.67,624.9 359.67,640.9 375.67,640.9" fill="none" stroke="#FF2C00" stroke-width="3.9" stroke-linejoin="miter"/>
<polygon points="411.82,638.6 403.82,654.6 419.82,654.6" fill="none" stroke="#FF2C00" stroke-width="3.9" stroke-linejoin="miter"/>
<polygon points="455.96,656.7 447.96,672.7 463.96,672.7" fill="none" stroke="#FF2C00" stroke-width="3.9" stroke-linejoin="miter"/>
<polygon points="500.11,671.4 492.11,687.4 508.11,687.4" fill="none" stroke="#FF2C00" stroke-width="3.9" stroke-linejoin="miter"/>
<polygon points="544.26,678.3 536.26,694.3 552.26,694.3" fill="none" stroke="#FF2C00" stroke-width="3.9" stroke-linejoin="miter"/>
<polygon points="588.4,684.2 580.4,700.2 596.4,700.2" fill="none" stroke="#FF2C00" stroke-width="3.9" stroke-linejoin="miter"/>
<polygon points="632.55,692.2 624.55,708.2 640.55,708.2" fill="none" stroke="#FF2C00" stroke-width="3.9" stroke-linejoin="miter"/>
<polygon points="676.7,697.7 668.7,713.7 684.7,713.7" fill="none" stroke="#FF2C00" stroke-width="3.9" stroke-linejoin="miter"/>
<polygon points="720.84,699.2 712.84,715.2 728.84,715.2" fill="none" stroke="#FF2C00" stroke-width="3.9" stroke-linejoin="miter"/>
<polygon points="764.99,705.6 756.99,721.6 772.99,721.6" fill="none" stroke="#FF2C00" stroke-width="3.9" stroke-linejoin="miter"/>
<polyline points="146.94,474.92 157.97,480.56 169.01,486.12 180.05,491.61 191.08,497.03 202.12,502.37 213.16,507.63 224.19,512.81 235.23,517.9 246.27,522.91 257.3,527.84 268.34,532.67 279.38,537.42 290.41,542.07 301.45,546.64 312.49,551.11 323.52,555.49 334.56,559.78 345.6,563.98 356.63,568.08 367.67,572.09 378.71,576 389.74,579.82 400.78,583.55 411.82,587.19 422.85,590.73 433.89,594.19 444.93,597.56 455.96,600.84 467,604.03 478.04,607.14 489.07,610.16 500.11,613.1 511.15,615.97 522.18,618.75 533.22,621.46 544.26,624.1 555.29,626.67 566.33,629.17 577.37,631.61 588.4,633.98 599.44,636.3 610.48,638.56 621.51,640.78 632.55,642.94 643.59,645.06 654.62,647.14 665.66,649.18 676.7,651.2 687.73,653.18 698.77,655.15 709.81,657.09 720.84,659.03 731.88,660.95 742.92,662.88 753.95,664.8 764.99,666.74 776.03,668.68 787.06,670.65 798.1,672.64 809.14,674.67" fill="none" stroke="#845B97" stroke-width="4.1" stroke-linejoin="round" stroke-linecap="square"/>
<polygon points="146.94,467 154.55,472.53 151.64,481.47 142.23,481.47 139.33,472.53" fill="#845B97" stroke="#845B97" stroke-width="3.9" stroke-linejoin="miter"/>
<polygon points="191.08,488.5 198.69,494.03 195.79,502.97 186.38,502.97 183.47,494.03" fill="#845B97" stroke="#845B97" stroke-width="3.9" stroke-linejoin="miter"/>
<polygon points="235.23,510.7 242.84,516.23 239.93,525.17 230.53,525.17 227.62,516.23" fill="#845B97" stroke="#845B97" stroke-width="3.9" stroke-linejoin="miter"/>
<polygon points="279.38,529.5 286.99,535.03 284.08,543.97 274.67,543.97 271.77,535.03" fill="#845B97" stroke="#845B97" stroke-width="3.9" stroke-linejoin="miter"/>
<polygon points="323.52,546.7 331.13,552.23 328.23,561.17 318.82,561.17 315.91,552.23" fill="#845B97" stroke="#845B97" stroke-width="3.9" stroke-linejoin="miter"/>
<polygon points="367.67,564.7 375.28,570.23 372.37,579.17 362.97,579.17 360.06,570.23" fill="#845B97" stroke="#845B97" stroke-width="3.9" stroke-linejoin="miter"/>
<polygon points="411.82,579 419.43,584.53 416.52,593.47 407.11,593.47 404.21,584.53" fill="#845B97" stroke="#845B97" stroke-width="3.9" stroke-linejoin="miter"/>
<polygon points="455.96,592.2 463.57,597.73 460.67,606.67 451.26,606.67 448.35,597.73" fill="#845B97" stroke="#845B97" stroke-width="3.9" stroke-linejoin="miter"/>
<polygon points="500.11,605.3 507.72,610.83 504.81,619.77 495.41,619.77 492.5,610.83" fill="#845B97" stroke="#845B97" stroke-width="3.9" stroke-linejoin="miter"/>
<polygon points="544.26,616.7 551.87,622.23 548.96,631.17 539.55,631.17 536.65,622.23" fill="#845B97" stroke="#845B97" stroke-width="3.9" stroke-linejoin="miter"/>
<polygon points="588.4,626.7 596.01,632.23 593.11,641.17 583.7,641.17 580.79,632.23" fill="#845B97" stroke="#845B97" stroke-width="3.9" stroke-linejoin="miter"/>
<polygon points="632.55,633.8 640.16,639.33 637.25,648.27 627.85,648.27 624.94,639.33" fill="#845B97" stroke="#845B97" stroke-width="3.9" stroke-linejoin="miter"/>
<polygon points="676.7,643.2 684.31,648.73 681.4,657.67 671.99,657.67 669.09,648.73" fill="#845B97" stroke="#845B97" stroke-width="3.9" stroke-linejoin="miter"/>
<polygon points="720.84,651 728.45,656.53 725.55,665.47 716.14,665.47 713.23,656.53" fill="#845B97" stroke="#845B97" stroke-width="3.9" stroke-linejoin="miter"/>
<polygon points="764.99,659.2 772.6,664.73 769.69,673.67 760.29,673.67 757.38,664.73" fill="#845B97" stroke="#845B97" stroke-width="3.9" stroke-linejoin="miter"/>
<polyline points="146.94,476.46 157.97,483.68 169.01,490.72 180.05,497.59 191.08,504.3 202.12,510.83 213.16,517.21 224.19,523.43 235.23,529.5 246.27,535.41 257.3,541.18 268.34,546.8 279.38,552.28 290.41,557.62 301.45,562.83 312.49,567.9 323.52,572.84 334.56,577.66 345.6,582.35 356.63,586.92 367.67,591.37 378.71,595.71 389.74,599.93 400.78,604.04 411.82,608.05 422.85,611.95 433.89,615.74 444.93,619.44 455.96,623.04 467,626.54 478.04,629.96 489.07,633.28 500.11,636.51 511.15,639.65 522.18,642.72 533.22,645.7 544.26,648.6 555.29,651.42 566.33,654.17 577.37,656.84 588.4,659.44 599.44,661.98 610.48,664.44 621.51,666.84 632.55,669.17 643.59,671.45 654.62,673.66 665.66,675.81 676.7,677.9 687.73,679.94 698.77,681.92 709.81,683.85 720.84,685.73 731.88,687.56 742.92,689.34 753.95,691.07 764.99,692.76 776.03,694.4 787.06,696 798.1,697.55 809.14,699.07" fill="none" stroke="#474747" stroke-width="4.1" stroke-linejoin="round" stroke-linecap="square"/>
<polygon points="146.94,468.5 154.55,474.03 151.64,482.97 142.23,482.97 139.33,474.03" fill="none" stroke="#474747" stroke-width="3.9" stroke-linejoin="miter"/>
<polygon points="191.08,495.8 198.69,501.33 195.79,510.27 186.38,510.27 183.47,501.33" fill="none" stroke="#474747" stroke-width="3.9" stroke-linejoin="miter"/>
<polygon points="235.23,523.6 242.84,529.13 239.93,538.07 230.53,538.07 227.62,529.13" fill="none" stroke="#474747" stroke-width="3.9" stroke-linejoin="miter"/>
<polygon points="279.38,542.6 286.99,548.13 284.08,557.07 274.67,557.07 271.77,548.13" fill="none" stroke="#474747" stroke-width="3.9" stroke-linejoin="miter"/>
<polygon points="323.52,567.6 331.13,573.13 328.23,582.07 318.82,582.07 315.91,573.13" fill="none" stroke="#474747" stroke-width="3.9" stroke-linejoin="miter"/>
<polygon points="367.67,584.2 375.28,589.73 372.37,598.67 362.97,598.67 360.06,589.73" fill="none" stroke="#474747" stroke-width="3.9" stroke-linejoin="miter"/>
<polygon points="411.82,598 419.43,603.53 416.52,612.47 407.11,612.47 404.21,603.53" fill="none" stroke="#474747" stroke-width="3.9" stroke-linejoin="miter"/>
<polygon points="455.96,614.4 463.57,619.93 460.67,628.87 451.26,628.87 448.35,619.93" fill="none" stroke="#474747" stroke-width="3.9" stroke-linejoin="miter"/>
<polygon points="500.11,629.5 507.72,635.03 504.81,643.97 495.41,643.97 492.5,635.03" fill="none" stroke="#474747" stroke-width="3.9" stroke-linejoin="miter"/>
<polygon points="544.26,643.2 551.87,648.73 548.96,657.67 539.55,657.67 536.65,648.73" fill="none" stroke="#474747" stroke-width="3.9" stroke-linejoin="miter"/>
<polygon points="588.4,654.4 596.01,659.93 593.11,668.87 583.7,668.87 580.79,659.93" fill="none" stroke="#474747" stroke-width="3.9" stroke-linejoin="miter"/>
<polygon points="632.55,664.5 640.16,670.03 637.25,678.97 627.85,678.97 624.94,670.03" fill="none" stroke="#474747" stroke-width="3.9" stroke-linejoin="miter"/>
<polygon points="676.7,670.5 684.31,676.03 681.4,684.97 671.99,684.97 669.09,676.03" fill="none" stroke="#474747" stroke-width="3.9" stroke-linejoin="miter"/>
<polygon points="720.84,678.4 728.45,683.93 725.55,692.87 716.14,692.87 713.23,683.93" fill="none" stroke="#474747" stroke-width="3.9" stroke-linejoin="miter"/>
<polygon points="764.99,684 772.6,689.53 769.69,698.47 760.29,698.47 757.38,689.53" fill="none" stroke="#474747" stroke-width="3.9" stroke-linejoin="miter"/>
</g>
<rect x="135.9" y="455" width="662.2" height="273.8" fill="none" stroke="#000" stroke-width="2.1"/>
<g font-family="'Liberation Serif', serif" font-size="32" fill="#000">
<text x="16.53" y="38" font-size="35.2" textLength="10.58" lengthAdjust="spacingAndGlyphs">(</text>
<text x="27.79" y="38" font-size="31" textLength="17.87" lengthAdjust="spacingAndGlyphs">a</text>
<text x="45.94" y="38" font-size="35.2" textLength="10.63" lengthAdjust="spacingAndGlyphs">)</text>
<text x="15.44" y="421.9" font-size="35.2" textLength="10.84" lengthAdjust="spacingAndGlyphs">(</text>
<text x="28.1" y="421.9" font-size="32" textLength="18.04" lengthAdjust="spacingAndGlyphs">b</text>
<text x="47.04" y="421.9" font-size="35.2" textLength="10.63" lengthAdjust="spacingAndGlyphs">)</text>
<text x="62.77" y="96.6" font-size="32" textLength="58.98" lengthAdjust="spacingAndGlyphs">1.00</text>
<text x="62.75" y="168.77" font-size="32" textLength="59" lengthAdjust="spacingAndGlyphs">0.95</text>
<text x="62.75" y="240.93" font-size="32" textLength="59" lengthAdjust="spacingAndGlyphs">0.90</text>
<text x="62.75" y="313.1" font-size="32" textLength="59" lengthAdjust="spacingAndGlyphs">0.85</text>
<text x="79.32" y="478.1" font-size="32" textLength="42.75" lengthAdjust="spacingAndGlyphs">1.0</text>
<text x="78.61" y="582.88" font-size="32" textLength="43.48" lengthAdjust="spacingAndGlyphs">0.9</text>
<text x="78.61" y="687.66" font-size="32" textLength="43.48" lengthAdjust="spacingAndGlyphs">0.8</text>
<text x="127.58" y="381.3" font-size="32" textLength="16.64" lengthAdjust="spacingAndGlyphs">0</text>
<text x="260.19" y="381.3" font-size="32" textLength="16.64" lengthAdjust="spacingAndGlyphs">2</text>
<text x="392.38" y="381.3" font-size="32" textLength="16.64" lengthAdjust="spacingAndGlyphs">4</text>
<text x="524.65" y="381.3" font-size="32" textLength="16.64" lengthAdjust="spacingAndGlyphs">6</text>
<text x="657.34" y="381.3" font-size="32" textLength="16.64" lengthAdjust="spacingAndGlyphs">8</text>
<text x="781.73" y="381.3" font-size="32" textLength="33.28" lengthAdjust="spacingAndGlyphs">10</text>
<text x="127.58" y="765.4" font-size="32" textLength="16.64" lengthAdjust="spacingAndGlyphs">0</text>
<text x="229.79" y="765.4" font-size="32" textLength="33.28" lengthAdjust="spacingAndGlyphs">10</text>
<text x="340.21" y="765.4" font-size="32" textLength="33.28" lengthAdjust="spacingAndGlyphs">20</text>
<text x="450.49" y="765.4" font-size="32" textLength="33.28" lengthAdjust="spacingAndGlyphs">30</text>
<text x="561.36" y="765.4" font-size="32" textLength="33.28" lengthAdjust="spacingAndGlyphs">40</text>
<text x="671.06" y="765.4" font-size="32" textLength="33.28" lengthAdjust="spacingAndGlyphs">50</text>
<text x="781.68" y="765.4" font-size="32" textLength="33.28" lengthAdjust="spacingAndGlyphs">60</text>
<text x="398.5" y="427" font-size="27.4" font-style="italic" textLength="18.13" lengthAdjust="spacingAndGlyphs">σ</text>
<text x="418.82" y="432.5" font-size="23.6" textLength="13.79" lengthAdjust="spacingAndGlyphs">h</text>
<text x="434.22" y="432.5" font-size="23.2" textLength="9.72" lengthAdjust="spacingAndGlyphs">f</text>
<text x="467.39" y="427.2" font-size="32.5" textLength="60.81" lengthAdjust="spacingAndGlyphs">neV</text>
<text x="315.91" y="808.3" font-size="32" textLength="108.33" lengthAdjust="spacingAndGlyphs">number</text>
<text x="435.99" y="808.3" font-size="32" textLength="29.34" lengthAdjust="spacingAndGlyphs">of</text>
<text x="475.11" y="808.3" font-size="32" textLength="113.81" lengthAdjust="spacingAndGlyphs">shuttles</text>
<text x="600.21" y="808.3" font-size="32" textLength="17.83" lengthAdjust="spacingAndGlyphs">n</text>
</g>
<path d="M467.1 403.3 H462.8 V433.7 H467.1" fill="none" stroke="#000" stroke-width="1.5"/>
<path d="M526.3 403.3 H530.6 V433.7 H526.3" fill="none" stroke="#000" stroke-width="1.5"/>
<g transform="translate(0,0)" fill="none" stroke="#000" stroke-linecap="round" stroke-linejoin="round"><path d="M14 194.4 V221.7" stroke-width="1.8" stroke-linecap="butt"/><path d="M21.6 195.6 Q20.3 194.2 20 196.5 V210.5 Q20 213.8 21.5 215" stroke-width="1.8"/><path d="M20.4 206.1 C27 207.2 34.5 210 38.6 213 C42 215.6 41.6 218.2 39.4 219.6" stroke-width="2.3"/><circle cx="39.1" cy="219.5" r="1.35" fill="#000" stroke="none"/><path d="M30 199.4 V208.8" stroke-width="1.9"/></g>
<g transform="translate(16.7,383.8)" fill="none" stroke="#000" stroke-linecap="round" stroke-linejoin="round"><path d="M14 194.4 V221.7" stroke-width="1.8" stroke-linecap="butt"/><path d="M21.6 195.6 Q20.3 194.2 20 196.5 V210.5 Q20 213.8 21.5 215" stroke-width="1.8"/><path d="M20.4 206.1 C27 207.2 34.5 210 38.6 213 C42 215.6 41.6 218.2 39.4 219.6" stroke-width="2.3"/><circle cx="39.1" cy="219.5" r="1.35" fill="#000" stroke="none"/><path d="M30 199.4 V208.8" stroke-width="1.9"/></g>
</svg>
</body>
</html>
